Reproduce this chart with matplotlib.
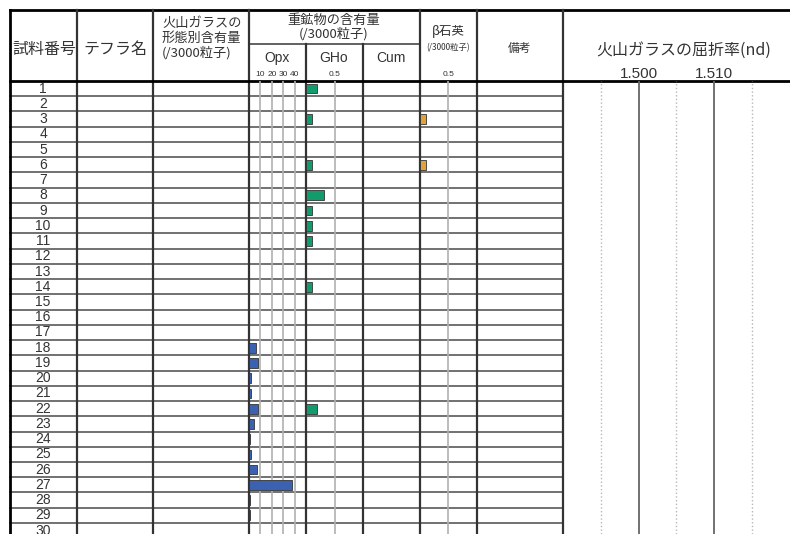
import matplotlib.pyplot as plt

plt.rcParams['font.family'] = ['Noto Sans CJK JP', 'DejaVu Sans']
latin = ['Liberation Sans', 'DejaVu Sans']

# sample rows and values (per 3000 grains)
samples = list(range(1, 31))
opx = [0, 0, 0, 0, 0, 0, 0, 0, 0, 0, 0, 0, 0, 0, 0, 0.4, 0, 6, 7.5, 2,
       1.8, 7.5, 4, 1.2, 1.8, 7, 38, 0.6, 0.6, 0]
gho = [0.2, 0, 0.1, 0, 0, 0.1, 0, 0.31, 0.1, 0.1, 0.1, 0, 0, 0.1, 0, 0, 0, 0, 0, 0,
       0, 0.2, 0, 0, 0, 0, 0, 0, 0, 0]
cum = [0] * 30
quartz = [0, 0, 0.1, 0, 0, 0.1, 0, 0, 0, 0, 0, 0, 0, 0, 0, 0, 0, 0, 0, 0,
          0, 0, 0, 0, 0, 0, 0, 0, 0, 0]
nd_ticks = [1.500, 1.510]
nd_minor = [1.495, 1.505, 1.515]

W, H = 790, 534
top, sub, head = 10, 44, 81
rh = 15.24
cols = [10, 77, 153, 249, 306, 363, 420, 477, 563, 790]

fig = plt.figure(figsize=(W / 100, H / 100), dpi=100)
ax = fig.add_axes([0, 0, 1, 1])
ax.set_xlim(0, W)
ax.set_ylim(H, 0)
ax.axis('off')

# row lines
for k in range(1, 30):
    y = head + k * rh
    ax.plot([cols[0], cols[8]], [y, y], color='#666666', lw=1.3, zorder=1)

# column lines
for x in [77, 153, 249, 420, 477, 563]:
    ax.plot([x, x], [top, H], color='#333333', lw=1.6, zorder=3)
for x in [306, 363]:
    ax.plot([x, x], [sub, H], color='#333333', lw=1.6, zorder=3)
ax.plot([249, 420], [sub, sub], color='#555555', lw=1.3)

# outer border and header line
ax.plot([cols[0], W], [top, top], color='black', lw=2)
ax.plot([cols[0], cols[0]], [top, H], color='black', lw=2, zorder=3)
ax.plot([cols[0], W], [head, head], color='black', lw=2, zorder=3)

txt = dict(color='#333333', ha='center', va='center')
ax.text(44, 49, '試料番号', fontsize=11.5, **txt)
ax.text(115, 49, 'テフラ名', fontsize=11.5, **txt)
ax.text(162, 23, '火山ガラスの', fontsize=9.5, color='#333333', ha='left', va='center')
ax.text(162, 38, '形態別含有量', fontsize=9.5, color='#333333', ha='left', va='center')
ax.text(162, 53, '(/3000粒子)', fontsize=9.5, color='#333333', ha='left', va='center')
ax.text(334, 20, '重鉱物の含有量', fontsize=9.5, **txt)
ax.text(334, 34, '(/3000粒子)', fontsize=9.5, **txt)
ax.text(277, 58, 'Opx', fontsize=10, family=latin, **txt)
ax.text(334, 58, 'GHo', fontsize=10, family=latin, **txt)
ax.text(391, 58, 'Cum', fontsize=10, family=latin, **txt)
ax.text(448, 32, 'β石英', fontsize=9, **txt)
ax.text(448, 48, '(/3000粒子)', fontsize=6, **txt)
ax.text(520, 48, '備考', fontsize=8.5, **txt)
ax.text(684, 50, '火山ガラスの屈折率(nd)', fontsize=11.5, **txt)

for i, s in enumerate(samples):
    ax.text(43, head + (i + 0.5) * rh, str(s), fontsize=10, family=latin, **txt)

# bar panels
ymax = (H - head) / rh


def panel(x0, x1, vals, xmax, color, grid, ticks, labels):
    p = fig.add_axes([x0 / W, 0, (x1 - x0) / W, (H - head) / H])
    p.set_xlim(0, xmax)
    p.set_ylim(ymax, 0)
    p.patch.set_alpha(0)
    for sp in p.spines.values():
        sp.set_visible(False)
    for g in grid:
        p.axvline(g, color='#b0b0b0', lw=1.2, zorder=0)
    rows = [i + 0.5 for i in range(len(vals))]
    p.barh(rows, vals, height=0.64, left=0, color=color,
           edgecolor='#333333', linewidth=0.6, zorder=2)
    p.set_yticks([])
    p.xaxis.tick_top()
    p.set_xticks(ticks)
    p.set_xticklabels(labels, fontsize=6, color='#333333', family=latin)
    p.tick_params(axis='x', length=0, pad=2)
    return p


panel(249, 306, opx, 50, '#3a62b0', [10, 20, 30, 40], [10, 20, 30, 40],
      ['10', '20', '30', '40'])
panel(306, 363, gho, 1, '#139b6c', [0.5], [0.5], ['0.5'])
panel(363, 420, cum, 1, '#139b6c', [], [], [])
panel(420, 477, quartz, 1, '#e0a23a', [0.5], [0.5], ['0.5'])

# refractive index panel
r = fig.add_axes([563 / W, 0, (W - 563) / W, (H - head) / H])
r.set_xlim(1.490, 1.520)
r.set_ylim(ymax, 0)
r.patch.set_alpha(0)
for sp in r.spines.values():
    sp.set_visible(False)
for v in nd_ticks:
    r.axvline(v, color='#666666', lw=1.3)
for v in nd_minor:
    r.axvline(v, color='#b8b8b8', lw=1.0, ls=':')
r.set_yticks([])
r.xaxis.tick_top()
r.set_xticks(nd_ticks)
r.set_xticklabels(['%.3f' % v for v in nd_ticks], fontsize=11, color='#333333',
                  family=latin)
r.tick_params(axis='x', length=0, pad=0)

fig.savefig('out.png', dpi=100)
